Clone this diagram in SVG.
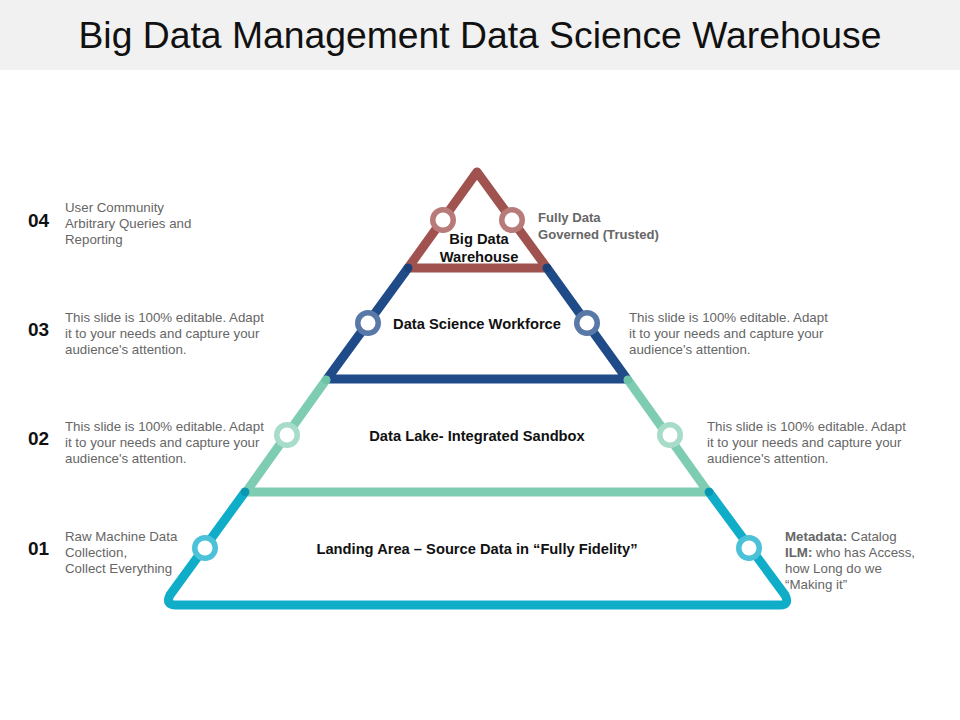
<svg xmlns="http://www.w3.org/2000/svg" width="960" height="720" viewBox="0 0 960 720">
<style>
.title{font-family:"Liberation Sans",Arial,sans-serif;font-size:37.3px;fill:#111}
.num{font-family:"Liberation Sans",Arial,sans-serif;font-size:19px;font-weight:bold;fill:#111}
.desc{font-family:"Liberation Sans",Arial,sans-serif;font-size:13.3px;fill:#666}
.descb{font-family:"Liberation Sans",Arial,sans-serif;font-size:13.1px;fill:#666;font-weight:bold}
.lbl{font-family:"Liberation Sans",Arial,sans-serif;font-size:14.7px;font-weight:bold;fill:#111;text-anchor:middle}
.seg{fill:none;stroke-width:9;stroke-linejoin:round;stroke-linecap:round}
.hole{fill:#fff}
</style>
<rect x="0" y="0" width="960" height="70" fill="#f1f1f1"/>
<text class="title" x="480" y="48" text-anchor="middle">Big Data Management Data Science Warehouse</text>

<g id="connectors">
  <path class="seg" stroke="#a0524f" d="M477,172 L408,268 L547,268 Z"/>
  <path class="seg" stroke="#1f4b88" d="M408,268 L327,379 L627,379 L547,268"/>
  <path class="seg" stroke="#7ecdb3" d="M326,380 L246,492 L708,492 L628,380"/>
  <path class="seg" stroke="#10adc9" stroke-width="10" d="M245,492 L170,595 Q165,605 176,605 L780,605 Q790,605 785,595 L709,492"/>
  <circle cx="408" cy="268" r="4" fill="#1a4178"/>
  <circle cx="547" cy="268" r="4" fill="#1a4178"/>
  <circle cx="326" cy="380" r="4" fill="#6cc3a6"/>
  <circle cx="628" cy="380" r="4" fill="#6cc3a6"/>
  <circle cx="245" cy="492" r="4" fill="#0b96b0"/>
  <circle cx="709" cy="492" r="4" fill="#0b96b0"/>
</g>

<g id="tier4">
  <circle cx="443" cy="220" r="13" fill="#b87b79"/><circle class="hole" cx="443" cy="220" r="7.5"/>
  <circle cx="512" cy="220" r="13" fill="#b87b79"/><circle class="hole" cx="512" cy="220" r="7.5"/>
  <text class="lbl" x="479" y="244">Big Data</text>
  <text class="lbl" x="479" y="262">Warehouse</text>
  <text class="num" x="28" y="227">04</text>
  <text class="desc" x="65" y="212">User Community</text>
  <text class="desc" x="65" y="228">Arbitrary Queries and</text>
  <text class="desc" x="65" y="244">Reporting</text>
  <text class="descb" x="538" y="222">Fully Data</text>
  <text class="descb" x="538" y="239">Governed (Trusted)</text>
</g>

<g id="tier3">
  <circle cx="368" cy="323" r="13" fill="#5878a8"/><circle class="hole" cx="368" cy="323" r="7.5"/>
  <circle cx="587" cy="323" r="13" fill="#5878a8"/><circle class="hole" cx="587" cy="323" r="7.5"/>
  <text class="lbl" x="477" y="329">Data Science Workforce</text>
  <text class="num" x="28" y="336">03</text>
  <text class="desc" x="65" y="322">This slide is 100% editable. Adapt</text>
  <text class="desc" x="65" y="338">it to your needs and capture your</text>
  <text class="desc" x="65" y="354">audience's attention.</text>
  <text class="desc" x="629" y="322">This slide is 100% editable. Adapt</text>
  <text class="desc" x="629" y="338">it to your needs and capture your</text>
  <text class="desc" x="629" y="354">audience's attention.</text>
</g>

<g id="tier2">
  <circle cx="287" cy="435" r="13" fill="#a6dcc8"/><circle class="hole" cx="287" cy="435" r="7.5"/>
  <circle cx="670" cy="435" r="13" fill="#a6dcc8"/><circle class="hole" cx="670" cy="435" r="7.5"/>
  <text class="lbl" x="477" y="441">Data Lake- Integrated Sandbox</text>
  <text class="num" x="28" y="445">02</text>
  <text class="desc" x="65" y="431">This slide is 100% editable. Adapt</text>
  <text class="desc" x="65" y="447">it to your needs and capture your</text>
  <text class="desc" x="65" y="463">audience's attention.</text>
  <text class="desc" x="707" y="431">This slide is 100% editable. Adapt</text>
  <text class="desc" x="707" y="447">it to your needs and capture your</text>
  <text class="desc" x="707" y="463">audience's attention.</text>
</g>

<g id="tier1">
  <circle cx="205" cy="548" r="13" fill="#4cc2d8"/><circle class="hole" cx="205" cy="548" r="7.5"/>
  <circle cx="749" cy="548" r="13" fill="#4cc2d8"/><circle class="hole" cx="749" cy="548" r="7.5"/>
  <text class="lbl" x="477" y="554">Landing Area – Source Data in “Fully Fidelity”</text>
  <text class="num" x="28" y="555">01</text>
  <text class="desc" x="65" y="541">Raw Machine Data</text>
  <text class="desc" x="65" y="557">Collection,</text>
  <text class="desc" x="65" y="573">Collect Everything</text>
  <text class="desc" x="785" y="541"><tspan font-weight="bold">Metadata:</tspan> Catalog</text>
  <text class="desc" x="785" y="557"><tspan font-weight="bold">ILM:</tspan> who has Access,</text>
  <text class="desc" x="785" y="573">how Long do we</text>
  <text class="desc" x="785" y="589">“Making it”</text>
</g>
</svg>
